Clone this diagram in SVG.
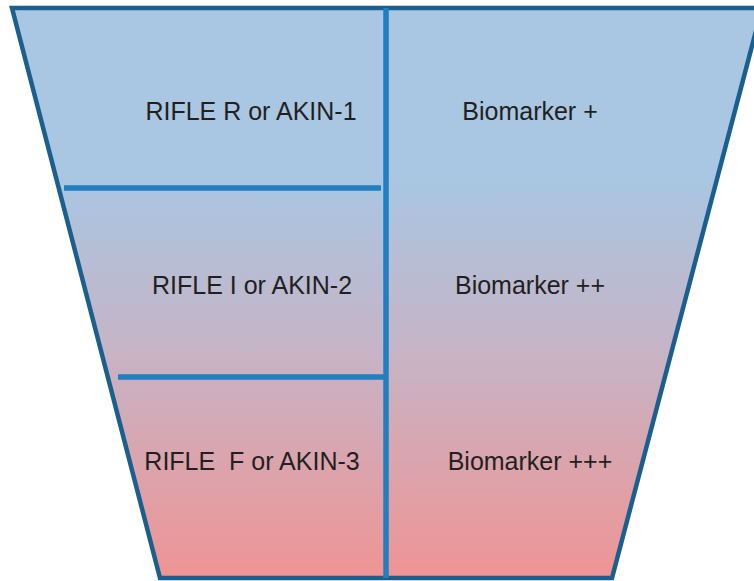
<svg xmlns="http://www.w3.org/2000/svg" width="754" height="581" viewBox="0 0 754 581">
<style>
.lbl{font-family:"Liberation Sans",Arial,sans-serif;font-size:25px;fill:#231f20;text-anchor:middle;white-space:pre}
.div{stroke:#1f7fc0;stroke-width:5.5;fill:none}
</style>
<defs>
<linearGradient id="g" x1="0" y1="0" x2="0" y2="1">
<stop offset="0" stop-color="#a9c7e3"/>
<stop offset="0.3" stop-color="#a9c6e2"/>
<stop offset="0.6" stop-color="#c6b4c6"/>
<stop offset="1" stop-color="#ef9494"/>
</linearGradient>
</defs>
<g id="funnel">
<polygon points="12,8 762,8 612,578 160,578" fill="url(#g)" stroke="#1a5f8e" stroke-width="4.5" stroke-linejoin="miter"/>
</g>
<g id="connectors">
<line class="div" x1="386" y1="8" x2="386" y2="578"/>
<line class="div" x1="64" y1="188" x2="381" y2="188"/>
<line class="div" x1="118" y1="377" x2="386" y2="377"/>
</g>
<g id="row1"><text class="lbl" x="251" y="120">RIFLE R or AKIN-1</text><text class="lbl" x="530" y="120">Biomarker +</text></g>
<g id="row2"><text class="lbl" x="252" y="294">RIFLE I or AKIN-2</text><text class="lbl" x="530" y="294">Biomarker ++</text></g>
<g id="row3"><text class="lbl" x="252" y="470">RIFLE  F or AKIN-3</text><text class="lbl" x="530" y="470">Biomarker +++</text></g>
</svg>
